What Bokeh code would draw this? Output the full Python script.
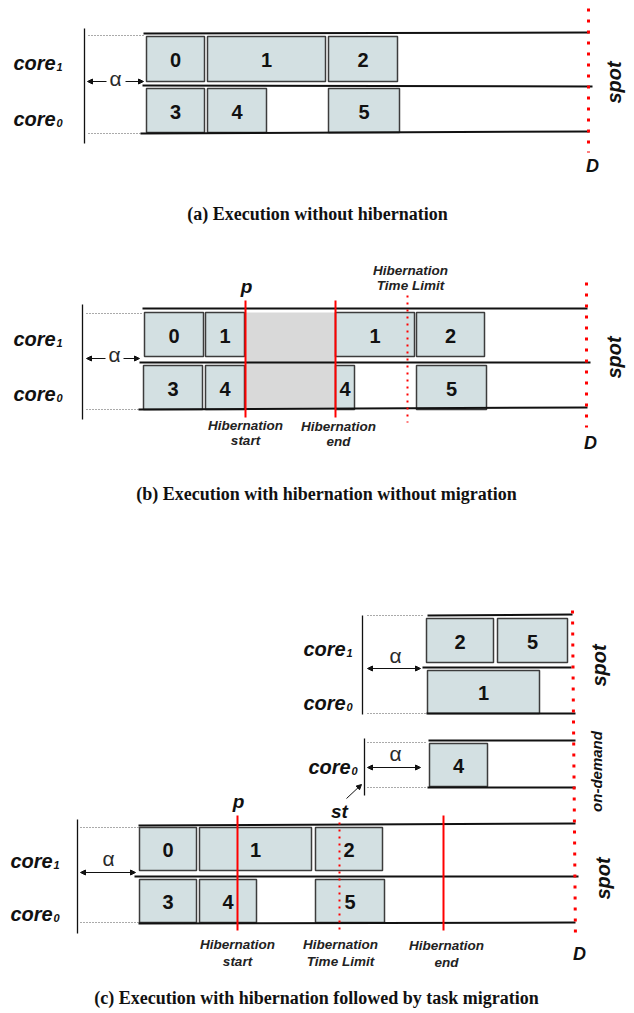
import math
from bokeh.plotting import figure
from bokeh.models import Range1d, ColumnDataSource, Arrow, NormalHead
from bokeh.embed import file_html
from bokeh.resources import INLINE
from bokeh.core.properties import value

# ---------------- data ----------------
# tasks: id, panel, core, start time, end time  (time axis in diagram units)
TASK_ID    = ["0", "1", "2", "3", "4", "5",
              "0", "1", "1", "2", "3", "4", "4", "5",
              "0", "1", "2", "3", "4", "5",
              "2", "5", "1",
              "4"]
TASK_PANEL = ["a"] * 6 + ["b"] * 8 + ["c"] * 6 + ["c_spot"] * 3 + ["c_od"]
TASK_CORE  = [1, 1, 1, 0, 0, 0,
              1, 1, 1, 1, 0, 0, 0, 0,
              1, 1, 1, 0, 0, 0,
              1, 1, 0,
              0]
TASK_START = [146, 207, 328, 146, 207, 328,
              144, 205, 335, 416, 143, 205, 335, 416,
              139, 199, 315, 139, 199, 315,
              426, 497, 427,
              429]
TASK_END   = [204, 325, 397, 204, 266, 399,
              203, 244, 414, 484, 202, 244, 354, 486,
              196, 311, 382, 196, 256, 384,
              493, 567, 539,
              487]

# hibernation period (panel b)
HIB_START = [245]
HIB_END = [335]

# event markers: panel, time, kind
EVENT_PANEL = ["b", "b", "b", "c", "c", "c"]
EVENT_TIME = [245, 335, 407, 237, 339, 443]
EVENT_KIND = ["solid", "solid", "dotted", "solid", "dotted", "solid"]

CAPTIONS = ["(a) Execution without hibernation",
            "(b) Execution with hibernation without migration",
            "(c) Execution with hibernation followed by task migration"]

# ---------------- layout ----------------
ROWS = {("a", 1): (36, 81), ("a", 0): (88, 132),
        ("b", 1): (312, 356), ("b", 0): (365, 409),
        ("c", 1): (827, 870), ("c", 0): (879, 922),
        ("c_spot", 1): (618, 662), ("c_spot", 0): (670, 713),
        ("c_od", 0): (743, 786)}

W, H = 634, 1013
p = figure(width=W, height=H, x_range=Range1d(0, W), y_range=Range1d(H, 0),
           output_backend="svg", toolbar_location=None, min_border=0)
p.axis.visible = False
p.grid.visible = False
p.outline_line_color = None
p.background_fill_color = "white"

SANS = value("Liberation Sans")
SERIF = value("Liberation Serif")
BOX_FILL = "#d3e0e2"
BOX_LINE = "#3c3c3c"

# hibernation gray region
p.quad(left=HIB_START, right=HIB_END, top=[ROWS[("b", 1)][0]], bottom=[ROWS[("b", 0)][1] - 1],
       fill_color="#d9d9d9", line_color=None)

# task boxes
tops = [ROWS[(pn, c)][0] for pn, c in zip(TASK_PANEL, TASK_CORE)]
bots = [ROWS[(pn, c)][1] for pn, c in zip(TASK_PANEL, TASK_CORE)]
src = ColumnDataSource(dict(id=TASK_ID, l=TASK_START, r=TASK_END, t=tops, b=bots,
                            xc=[(a + b) / 2 for a, b in zip(TASK_START, TASK_END)],
                            yc=[(a + b) / 2 + 1 for a, b in zip(tops, bots)]))
p.quad(left="l", right="r", top="t", bottom="b", source=src,
       fill_color=BOX_FILL, line_color=BOX_LINE, line_width=1.5)
p.text(x="xc", y="yc", text="id", source=src, text_font=SANS, text_font_style="bold",
       text_font_size="20px", text_align="center", text_baseline="middle", text_color="#111111")

# frame lines (black, solid)
fx0 = [143, 142, 140, 142, 139, 138, 138, 134, 138, 427, 422, 426, 428, 427]
fy0 = [33, 85, 133, 308, 362, 409, 825, 876, 923, 615, 667, 713, 740, 787]
fx1 = [589, 592, 589, 587, 590, 587, 575, 578, 575, 572, 571, 575, 575, 575]
fy1 = [32, 86, 131, 308, 362, 407, 823, 876, 922, 614, 667, 713, 740, 787]
p.segment(x0=fx0, y0=fy0, x1=fx1, y1=fy1, line_color="#111111", line_width=2)

# vertical axis lines
p.segment(x0=[84, 82, 77, 362, 364], y0=[28, 304, 819, 615, 738],
          x1=[84, 82, 77, 362, 364], y1=[143, 419, 933, 714, 795],
          line_color="#111111", line_width=1.3)

# dotted guide lines
gx0 = [88, 88, 86, 86, 80, 80, 367, 367, 367, 367]
gy0 = [35, 133, 313, 409, 827, 922, 615, 713, 742, 787]
gx1 = [143, 140, 142, 138, 138, 138, 423, 425, 425, 425]
p.segment(x0=gx0, y0=gy0, x1=gx1, y1=gy0, line_color="#555555", line_width=1, line_dash="1 2")

# event markers (red)
ev_top = {"b": 300, "c": 815}
ev_bot = {"b": 417, "c": 930}
sol = [(t, pn) for t, pn, k in zip(EVENT_TIME, EVENT_PANEL, EVENT_KIND) if k == "solid"]
dot = [(t, pn) for t, pn, k in zip(EVENT_TIME, EVENT_PANEL, EVENT_KIND) if k == "dotted"]
p.segment(x0=[t for t, _ in sol], y0=[ev_top[pn] for _, pn in sol],
          x1=[t for t, _ in sol], y1=[ev_bot[pn] for _, pn in sol],
          line_color="#ff0000", line_width=2)
dot_top = {"b": 295, "c": 822}
dot_bot = {"b": 422, "c": 933}
p.segment(x0=[t for t, _ in dot], y0=[dot_top[pn] for _, pn in dot],
          x1=[t for t, _ in dot], y1=[dot_bot[pn] for _, pn in dot],
          line_color="#ff0000", line_width=2, line_dash="2 5")

# deadline lines
p.segment(x0=[588, 586, 572], y0=[8, 282, 610], x1=[588, 586, 575], y1=[152, 427, 940],
          line_color="#ff0000", line_width=3, line_dash="3 8")

# alpha arrows
def arrow(x0, y0, x1, y1, both=False):
    p.add_layout(Arrow(x_start=x0, y_start=y0, x_end=x1, y_end=y1,
                       end=NormalHead(size=5, fill_color="#111111", line_color="#111111"),
                       start=NormalHead(size=5, fill_color="#111111", line_color="#111111") if both else None,
                       line_color="#111111", line_width=1))

arrow(106, 81, 87, 81); arrow(125, 81, 143, 81)
arrow(105, 358, 86, 358); arrow(123, 358, 139, 358)
arrow(80, 872, 135, 872, both=True)
arrow(367, 668, 420, 668, both=True)
arrow(367, 767, 420, 767, both=True)
arrow(346, 798, 361, 784)

# alpha labels
p.text(x=[115, 114, 108, 395, 395], y=[78, 354, 858, 655, 753], text=["α"] * 5,
       text_font=SANS, text_font_size="21px", text_color="#2a2a2a",
       text_align="center", text_baseline="middle")

# core labels
cl_x = [13, 13, 13, 13, 10, 10, 303, 303, 308]
cl_y = [62, 118, 338, 393, 860, 913, 648, 702, 766]
cl_sub = ["1", "0", "1", "0", "1", "0", "1", "0", "0"]
p.text(x=cl_x, y=cl_y, text=["core"] * len(cl_x), text_font=SANS, text_font_style="bold italic",
       text_font_size="20px", text_color="#111111", text_align="left", text_baseline="middle")
p.text(x=[x + 43 for x in cl_x], y=[y + 4 for y in cl_y], text=cl_sub, text_font=SANS,
       text_font_style="bold italic", text_font_size="11px", text_color="#111111",
       text_align="left", text_baseline="middle")

# p / st / D labels
p.text(x=[246, 238, 339], y=[286, 801, 811], text=["p", "p", "st"], text_font=SANS,
       text_font_style="bold italic", text_font_size="19px", text_color="#111111",
       text_align="center", text_baseline="middle")
p.text(x=[592, 590, 579], y=[165, 442, 953], text=["D"] * 3, text_font=SANS,
       text_font_style="bold italic", text_font_size="18px", text_color="#111111",
       text_align="center", text_baseline="middle")

# spot / on-demand (rotated)
p.text(x=[613, 613, 598, 602], y=[82, 357, 665, 878], text=["spot"] * 4, angle=math.pi / 2,
       text_font=SANS, text_font_style="bold italic", text_font_size="20px", text_color="#111111",
       text_align="center", text_baseline="middle")
p.text(x=[596], y=[771], text=["on-demand"], angle=math.pi / 2,
       text_font=SANS, text_font_style="bold italic", text_font_size="15px", text_color="#111111",
       text_align="center", text_baseline="middle")

# hibernation annotation labels
hx = [410, 410, 245, 245, 338, 338, 237, 237, 340, 340, 446, 446]
hy = [270, 285, 425, 440, 426, 441, 944, 961, 944, 961, 945, 962]
ht = ["Hibernation", "Time Limit", "Hibernation", "start", "Hibernation", "end",
      "Hibernation", "start", "Hibernation", "Time Limit", "Hibernation", "end"]
p.text(x=hx, y=hy, text=ht, text_font=SANS, text_font_style="bold italic",
       text_font_size="13.5px", text_color="#222222", text_align="center", text_baseline="middle")

# captions
p.text(x=[317, 326, 316], y=[213, 493, 997], text=CAPTIONS, text_font=SERIF,
       text_font_style="bold", text_font_size="18px", text_color="#111111",
       text_align="center", text_baseline="middle")

open("out.html", "w").write(file_html(p, INLINE))
